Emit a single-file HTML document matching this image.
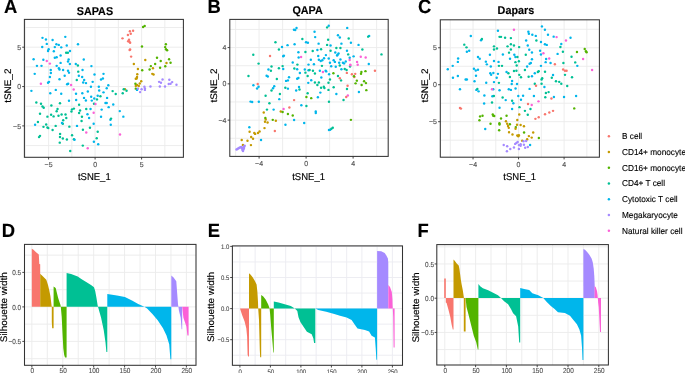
<!DOCTYPE html><html><head><meta charset="utf-8"><style>html,body{margin:0;padding:0;background:#fff;overflow:hidden}svg{display:block;will-change:transform;filter:blur(0.25px)}</style></head><body><svg width="685" height="373" viewBox="0 0 685 373" font-family="Liberation Sans, sans-serif" text-rendering="geometricPrecision"><rect width="685" height="373" fill="#fff"/><path d="M25.35 19.4V157.3M48.6 19.4V157.3M71.85 19.4V157.3M95.1 19.4V157.3M118.35 19.4V157.3M141.6 19.4V157.3M164.85 19.4V157.3M24.4 27.52H183.4M24.4 47.2H183.4M24.4 66.88H183.4M24.4 86.55H183.4M24.4 106.22H183.4M24.4 125.9H183.4M24.4 145.57H183.4" stroke="#EBEBEB" stroke-width="0.9" fill="none"/><circle cx="42.49" cy="37.86" r="1.22" fill="#00B6EB"/><circle cx="45.94" cy="39.59" r="1.22" fill="#00B6EB"/><circle cx="52.6" cy="39.96" r="1.22" fill="#00B6EB"/><circle cx="65.29" cy="36.87" r="1.22" fill="#00B6EB"/><circle cx="46.8" cy="43.9" r="1.22" fill="#00B6EB"/><circle cx="56.42" cy="44.27" r="1.22" fill="#00B6EB"/><circle cx="58.76" cy="44.89" r="1.22" fill="#00B6EB"/><circle cx="66.77" cy="45.5" r="1.22" fill="#00B6EB"/><circle cx="77.99" cy="44.27" r="1.22" fill="#00B6EB"/><circle cx="42.24" cy="46.98" r="1.22" fill="#00B6EB"/><circle cx="54.82" cy="47.1" r="1.22" fill="#00B6EB"/><circle cx="61.23" cy="47.35" r="1.22" fill="#00B6EB"/><circle cx="48.65" cy="49.2" r="1.22" fill="#00B6EB"/><circle cx="48.04" cy="51.05" r="1.22" fill="#00B6EB"/><circle cx="53.83" cy="51.17" r="1.22" fill="#00B6EB"/><circle cx="69.98" cy="50.93" r="1.22" fill="#00B6EB"/><circle cx="60.61" cy="55.49" r="1.22" fill="#00B6EB"/><circle cx="54.82" cy="57.83" r="1.22" fill="#00B6EB"/><circle cx="56.67" cy="57.21" r="1.22" fill="#00B6EB"/><circle cx="33.61" cy="59.31" r="1.22" fill="#00B6EB"/><circle cx="43.35" cy="59.68" r="1.22" fill="#00B6EB"/><circle cx="68.62" cy="59.43" r="1.22" fill="#00B6EB"/><circle cx="68.01" cy="61.53" r="1.22" fill="#00B6EB"/><circle cx="83.78" cy="59.43" r="1.22" fill="#00B6EB"/><circle cx="60.61" cy="62.88" r="1.22" fill="#00B6EB"/><circle cx="69.86" cy="63.99" r="1.22" fill="#00B6EB"/><circle cx="75.77" cy="63.99" r="1.22" fill="#00B6EB"/><circle cx="66.16" cy="52.78" r="1.22" fill="#00C094"/><circle cx="67.88" cy="52.78" r="1.22" fill="#00C094"/><circle cx="46.8" cy="60.91" r="1.22" fill="#FB61D7"/><circle cx="49.89" cy="63.62" r="1.22" fill="#FB61D7"/><circle cx="129.89" cy="31.33" r="1.22" fill="#F8766D"/><circle cx="133.09" cy="30.83" r="1.22" fill="#F8766D"/><circle cx="130.75" cy="33.79" r="1.22" fill="#F8766D"/><circle cx="127.91" cy="35.02" r="1.22" fill="#F8766D"/><circle cx="122.49" cy="38.35" r="1.22" fill="#F8766D"/><circle cx="129.02" cy="39.71" r="1.22" fill="#F8766D"/><circle cx="128.16" cy="41.19" r="1.22" fill="#F8766D"/><circle cx="129.39" cy="41.8" r="1.22" fill="#F8766D"/><circle cx="130.13" cy="42.67" r="1.22" fill="#F8766D"/><circle cx="130.13" cy="49.57" r="1.22" fill="#F8766D"/><circle cx="129.64" cy="50.06" r="1.22" fill="#F8766D"/><circle cx="131.12" cy="56.6" r="1.22" fill="#F8766D"/><circle cx="143.08" cy="27.01" r="1.22" fill="#53B400"/><circle cx="144.68" cy="25.9" r="1.22" fill="#53B400"/><circle cx="141.97" cy="46.49" r="1.22" fill="#53B400"/><circle cx="165.88" cy="44.27" r="1.22" fill="#53B400"/><circle cx="165.14" cy="47.1" r="1.22" fill="#53B400"/><circle cx="166" cy="49.2" r="1.22" fill="#53B400"/><circle cx="167.11" cy="50.19" r="1.22" fill="#53B400"/><circle cx="157" cy="57.83" r="1.22" fill="#53B400"/><circle cx="160.7" cy="60.91" r="1.22" fill="#53B400"/><circle cx="169.08" cy="59.31" r="1.22" fill="#53B400"/><circle cx="170.56" cy="62.76" r="1.22" fill="#53B400"/><circle cx="155.16" cy="63.99" r="1.22" fill="#53B400"/><circle cx="145.29" cy="59.92" r="1.22" fill="#C49A00"/><circle cx="133.83" cy="63.99" r="1.22" fill="#C49A00"/><circle cx="166.5" cy="63.01" r="1.22" fill="#C49A00"/><circle cx="36.94" cy="65.85" r="1.22" fill="#00B6EB"/><circle cx="41.5" cy="65.85" r="1.22" fill="#00B6EB"/><circle cx="56.67" cy="65.85" r="1.22" fill="#00B6EB"/><circle cx="91.43" cy="66.1" r="1.22" fill="#00B6EB"/><circle cx="50.75" cy="69.92" r="1.22" fill="#00B6EB"/><circle cx="58.88" cy="68.31" r="1.22" fill="#00B6EB"/><circle cx="59.5" cy="69.55" r="1.22" fill="#00B6EB"/><circle cx="63.08" cy="69.92" r="1.22" fill="#00B6EB"/><circle cx="68.01" cy="70.78" r="1.22" fill="#00B6EB"/><circle cx="68.99" cy="72.63" r="1.22" fill="#00B6EB"/><circle cx="82.55" cy="69.92" r="1.22" fill="#00B6EB"/><circle cx="34.72" cy="73.86" r="1.22" fill="#00B6EB"/><circle cx="50.87" cy="73" r="1.22" fill="#00B6EB"/><circle cx="94.51" cy="74.48" r="1.22" fill="#00B6EB"/><circle cx="103.51" cy="73.86" r="1.22" fill="#00B6EB"/><circle cx="64.68" cy="75.83" r="1.22" fill="#00B6EB"/><circle cx="78.85" cy="75.71" r="1.22" fill="#00B6EB"/><circle cx="82.18" cy="76.94" r="1.22" fill="#00B6EB"/><circle cx="49.89" cy="76.94" r="1.22" fill="#00B6EB"/><circle cx="59.5" cy="79.29" r="1.22" fill="#00B6EB"/><circle cx="84.15" cy="80.02" r="1.22" fill="#00B6EB"/><circle cx="101.04" cy="79.41" r="1.22" fill="#00B6EB"/><circle cx="102.89" cy="78.55" r="1.22" fill="#00B6EB"/><circle cx="49.02" cy="81.87" r="1.22" fill="#00B6EB"/><circle cx="48.04" cy="82.74" r="1.22" fill="#00B6EB"/><circle cx="83.17" cy="82.49" r="1.22" fill="#00B6EB"/><circle cx="86" cy="83.11" r="1.22" fill="#00B6EB"/><circle cx="92.66" cy="81.87" r="1.22" fill="#00B6EB"/><circle cx="67.14" cy="84.34" r="1.22" fill="#00B6EB"/><circle cx="68.13" cy="83.72" r="1.22" fill="#00B6EB"/><circle cx="90.93" cy="86.8" r="1.22" fill="#00B6EB"/><circle cx="98.82" cy="86.8" r="1.22" fill="#00B6EB"/><circle cx="31.4" cy="90.87" r="1.22" fill="#00B6EB"/><circle cx="55.8" cy="89.89" r="1.22" fill="#00B6EB"/><circle cx="50.26" cy="93.21" r="1.22" fill="#00B6EB"/><circle cx="61.23" cy="93.83" r="1.22" fill="#00B6EB"/><circle cx="76.02" cy="93.83" r="1.22" fill="#00B6EB"/><circle cx="82.31" cy="93.21" r="1.22" fill="#00B6EB"/><circle cx="87.85" cy="91.49" r="1.22" fill="#00B6EB"/><circle cx="99.19" cy="90.5" r="1.22" fill="#00B6EB"/><circle cx="103.51" cy="92.35" r="1.22" fill="#00B6EB"/><circle cx="91.18" cy="96.67" r="1.22" fill="#00B6EB"/><circle cx="84.03" cy="97.9" r="1.22" fill="#00B6EB"/><circle cx="97.71" cy="95.8" r="1.22" fill="#00B6EB"/><circle cx="94.26" cy="98.51" r="1.22" fill="#00B6EB"/><circle cx="68.99" cy="100.73" r="1.22" fill="#00B6EB"/><circle cx="76.14" cy="99.99" r="1.22" fill="#00B6EB"/><circle cx="85.88" cy="100.49" r="1.22" fill="#00B6EB"/><circle cx="91.8" cy="100.61" r="1.22" fill="#00B6EB"/><circle cx="90.56" cy="108.99" r="1.22" fill="#00B6EB"/><circle cx="101.66" cy="109.61" r="1.22" fill="#00B6EB"/><circle cx="77.87" cy="65.48" r="1.22" fill="#00C094"/><circle cx="78.24" cy="71.64" r="1.22" fill="#00C094"/><circle cx="76.76" cy="80.02" r="1.22" fill="#00C094"/><circle cx="100.43" cy="96.3" r="1.22" fill="#00C094"/><circle cx="96.97" cy="99.38" r="1.22" fill="#00C094"/><circle cx="36.33" cy="102.46" r="1.22" fill="#00C094"/><circle cx="41.01" cy="103.82" r="1.22" fill="#00C094"/><circle cx="42.49" cy="106.53" r="1.22" fill="#00C094"/><circle cx="43.72" cy="107.76" r="1.22" fill="#00C094"/><circle cx="51.37" cy="105.54" r="1.22" fill="#00C094"/><circle cx="59.99" cy="103.2" r="1.22" fill="#00C094"/><circle cx="79.1" cy="104.68" r="1.22" fill="#00C094"/><circle cx="94.02" cy="103.82" r="1.22" fill="#00C094"/><circle cx="57.53" cy="108.99" r="1.22" fill="#00C094"/><circle cx="72.07" cy="109.36" r="1.22" fill="#00C094"/><circle cx="73.92" cy="108.62" r="1.22" fill="#00C094"/><circle cx="86.25" cy="108.99" r="1.22" fill="#00C094"/><circle cx="40.89" cy="83.72" r="1.22" fill="#FB61D7"/><circle cx="71.09" cy="84.96" r="1.22" fill="#FB61D7"/><circle cx="73.68" cy="89.52" r="1.22" fill="#FB61D7"/><circle cx="95.49" cy="104.06" r="1.22" fill="#FB61D7"/><circle cx="137.9" cy="68.93" r="1.22" fill="#C49A00"/><circle cx="152.94" cy="68.31" r="1.22" fill="#C49A00"/><circle cx="137.28" cy="74.23" r="1.22" fill="#C49A00"/><circle cx="152.32" cy="73.86" r="1.22" fill="#C49A00"/><circle cx="153.55" cy="74.48" r="1.22" fill="#C49A00"/><circle cx="137.04" cy="76.94" r="1.22" fill="#C49A00"/><circle cx="135.8" cy="78.79" r="1.22" fill="#C49A00"/><circle cx="136.67" cy="78.55" r="1.22" fill="#C49A00"/><circle cx="141.23" cy="81.26" r="1.22" fill="#C49A00"/><circle cx="139.75" cy="83.48" r="1.22" fill="#C49A00"/><circle cx="137.04" cy="84.96" r="1.22" fill="#C49A00"/><circle cx="135.8" cy="85.94" r="1.22" fill="#C49A00"/><circle cx="138.76" cy="85.94" r="1.22" fill="#C49A00"/><circle cx="124.96" cy="89.27" r="1.22" fill="#C49A00"/><circle cx="150.84" cy="66.1" r="1.22" fill="#53B400"/><circle cx="165.26" cy="66.22" r="1.22" fill="#53B400"/><circle cx="142.21" cy="70.16" r="1.22" fill="#53B400"/><circle cx="149.61" cy="69.55" r="1.22" fill="#53B400"/><circle cx="160.09" cy="67.7" r="1.22" fill="#53B400"/><circle cx="135.43" cy="83.72" r="1.22" fill="#53B400"/><circle cx="135.8" cy="88.65" r="1.22" fill="#53B400"/><circle cx="112.63" cy="91.12" r="1.22" fill="#00C094"/><circle cx="115.71" cy="93.95" r="1.22" fill="#00C094"/><circle cx="122.74" cy="93.21" r="1.22" fill="#00C094"/><circle cx="123.72" cy="89.27" r="1.22" fill="#00C094"/><circle cx="126.56" cy="90.75" r="1.22" fill="#00C094"/><circle cx="108.31" cy="85.2" r="1.22" fill="#00B6EB"/><circle cx="106.71" cy="88.28" r="1.22" fill="#00B6EB"/><circle cx="107.08" cy="97.9" r="1.22" fill="#00B6EB"/><circle cx="105.48" cy="103.08" r="1.22" fill="#00B6EB"/><circle cx="106.71" cy="103.08" r="1.22" fill="#00B6EB"/><circle cx="113.24" cy="104.43" r="1.22" fill="#00B6EB"/><circle cx="108.68" cy="107.14" r="1.22" fill="#00B6EB"/><circle cx="137.04" cy="89.89" r="1.22" fill="#00B6EB"/><circle cx="162.55" cy="79.41" r="1.22" fill="#A58AFF"/><circle cx="169.33" cy="79.78" r="1.22" fill="#A58AFF"/><circle cx="159.1" cy="81.87" r="1.22" fill="#A58AFF"/><circle cx="160.95" cy="82.74" r="1.22" fill="#A58AFF"/><circle cx="172.17" cy="82.12" r="1.22" fill="#A58AFF"/><circle cx="168.71" cy="84.09" r="1.22" fill="#A58AFF"/><circle cx="170.56" cy="83.72" r="1.22" fill="#A58AFF"/><circle cx="176.48" cy="84.71" r="1.22" fill="#A58AFF"/><circle cx="144.43" cy="86.8" r="1.22" fill="#A58AFF"/><circle cx="150.47" cy="86.43" r="1.22" fill="#A58AFF"/><circle cx="159.84" cy="86.43" r="1.22" fill="#A58AFF"/><circle cx="165.02" cy="86.56" r="1.22" fill="#A58AFF"/><circle cx="137.9" cy="88.65" r="1.22" fill="#A58AFF"/><circle cx="141.6" cy="89.27" r="1.22" fill="#A58AFF"/><circle cx="144.92" cy="89.89" r="1.22" fill="#A58AFF"/><circle cx="144.92" cy="88.41" r="1.22" fill="#A58AFF"/><circle cx="140.12" cy="92.1" r="1.22" fill="#A58AFF"/><circle cx="56.67" cy="111.22" r="1.22" fill="#00C094"/><circle cx="71.46" cy="111.47" r="1.22" fill="#00C094"/><circle cx="79.1" cy="112.94" r="1.22" fill="#00C094"/><circle cx="80.09" cy="110.48" r="1.22" fill="#00C094"/><circle cx="40.02" cy="113.68" r="1.22" fill="#00C094"/><circle cx="47.42" cy="116.64" r="1.22" fill="#00C094"/><circle cx="51.12" cy="114.79" r="1.22" fill="#00C094"/><circle cx="53.58" cy="116.4" r="1.22" fill="#00C094"/><circle cx="58.51" cy="115.78" r="1.22" fill="#00C094"/><circle cx="61.6" cy="114.55" r="1.22" fill="#00C094"/><circle cx="65.54" cy="114.55" r="1.22" fill="#00C094"/><circle cx="66.28" cy="118" r="1.22" fill="#00C094"/><circle cx="63.2" cy="120.34" r="1.22" fill="#00C094"/><circle cx="62.83" cy="123.79" r="1.22" fill="#00C094"/><circle cx="37.93" cy="122.07" r="1.22" fill="#00C094"/><circle cx="46.19" cy="124.41" r="1.22" fill="#00C094"/><circle cx="43.48" cy="126.87" r="1.22" fill="#00C094"/><circle cx="47.42" cy="127.49" r="1.22" fill="#00C094"/><circle cx="48.28" cy="128.11" r="1.22" fill="#00C094"/><circle cx="55.68" cy="125.89" r="1.22" fill="#00C094"/><circle cx="69.36" cy="126.63" r="1.22" fill="#00C094"/><circle cx="81.94" cy="116.77" r="1.22" fill="#00C094"/><circle cx="81.57" cy="121.08" r="1.22" fill="#00C094"/><circle cx="82.92" cy="129.71" r="1.22" fill="#00C094"/><circle cx="89.95" cy="127.74" r="1.22" fill="#00C094"/><circle cx="97.71" cy="131.8" r="1.22" fill="#00C094"/><circle cx="52.6" cy="129.96" r="1.22" fill="#00C094"/><circle cx="60.12" cy="133.9" r="1.22" fill="#00C094"/><circle cx="59.99" cy="136.98" r="1.22" fill="#00C094"/><circle cx="62.83" cy="138.58" r="1.22" fill="#00C094"/><circle cx="66.9" cy="139.45" r="1.22" fill="#00C094"/><circle cx="72.07" cy="135.26" r="1.22" fill="#00C094"/><circle cx="73.92" cy="139.2" r="1.22" fill="#00C094"/><circle cx="59.75" cy="142.65" r="1.22" fill="#00C094"/><circle cx="40.02" cy="135.87" r="1.22" fill="#00C094"/><circle cx="39.04" cy="137.1" r="1.22" fill="#00C094"/><circle cx="96.73" cy="138.21" r="1.22" fill="#00C094"/><circle cx="82.8" cy="145.61" r="1.22" fill="#00C094"/><circle cx="70.22" cy="150.91" r="1.22" fill="#00C094"/><circle cx="35.09" cy="124.78" r="1.22" fill="#00B6EB"/><circle cx="61.97" cy="122.93" r="1.22" fill="#00B6EB"/><circle cx="77" cy="125.89" r="1.22" fill="#00B6EB"/><circle cx="87.48" cy="114.3" r="1.22" fill="#00B6EB"/><circle cx="89.08" cy="118" r="1.22" fill="#00B6EB"/><circle cx="93.65" cy="123.79" r="1.22" fill="#00B6EB"/><circle cx="101.04" cy="116.77" r="1.22" fill="#00B6EB"/><circle cx="74.54" cy="139.82" r="1.22" fill="#00B6EB"/><circle cx="93.89" cy="141.79" r="1.22" fill="#00B6EB"/><circle cx="98.21" cy="144.25" r="1.22" fill="#00B6EB"/><circle cx="93.65" cy="112.7" r="1.22" fill="#FB61D7"/><circle cx="86.25" cy="132.42" r="1.22" fill="#FB61D7"/><circle cx="87.73" cy="148.2" r="1.22" fill="#FB61D7"/><circle cx="119.78" cy="111.1" r="1.22" fill="#00B6EB"/><circle cx="123.35" cy="116.64" r="1.22" fill="#00B6EB"/><circle cx="110.41" cy="119.85" r="1.22" fill="#00B6EB"/><circle cx="110.78" cy="124.78" r="1.22" fill="#00B6EB"/><circle cx="111.03" cy="118.61" r="1.22" fill="#00C094"/><circle cx="120.02" cy="134.52" r="1.22" fill="#FB61D7"/><rect x="24.4" y="19.4" width="159" height="137.9" fill="none" stroke="#333" stroke-width="1.05"/><text transform="translate(48.6 166.9) scale(1 1.045)" font-size="7.0" text-anchor="middle" font-weight="normal" fill="#4D4D4D" stroke="#4D4D4D" stroke-width="0.1">−5</text><text transform="translate(95.1 166.9) scale(1 1.045)" font-size="7.0" text-anchor="middle" font-weight="normal" fill="#4D4D4D" stroke="#4D4D4D" stroke-width="0.1">0</text><text transform="translate(141.6 166.9) scale(1 1.045)" font-size="7.0" text-anchor="middle" font-weight="normal" fill="#4D4D4D" stroke="#4D4D4D" stroke-width="0.1">5</text><text transform="translate(21.1 49.8) scale(1 1.045)" font-size="7.0" text-anchor="end" font-weight="normal" fill="#4D4D4D" stroke="#4D4D4D" stroke-width="0.1">5</text><text transform="translate(21.1 89.15) scale(1 1.045)" font-size="7.0" text-anchor="end" font-weight="normal" fill="#4D4D4D" stroke="#4D4D4D" stroke-width="0.1">0</text><text transform="translate(21.1 128.5) scale(1 1.045)" font-size="7.0" text-anchor="end" font-weight="normal" fill="#4D4D4D" stroke="#4D4D4D" stroke-width="0.1">−5</text><path d="M48.6 157.3V159.5M95.1 157.3V159.5M141.6 157.3V159.5M24.4 47.2H22.2M24.4 86.55H22.2M24.4 125.9H22.2" stroke="#333" stroke-width="0.9" fill="none"/><text transform="translate(94.3 180) scale(1 1.045)" font-size="9.5" text-anchor="middle" font-weight="normal" fill="#000" stroke="#000" stroke-width="0.15">tSNE_1</text><text transform="translate(10.6 85.7) scale(1 1.045) rotate(-90)" font-size="9.5" text-anchor="middle" font-weight="normal" fill="#000" stroke="#000" stroke-width="0.15">tSNE_2</text><text transform="translate(94.9 15.2) scale(1 1.045)" font-size="10.8" text-anchor="middle" font-weight="bold" fill="#000" stroke="#000" stroke-width="0.15">SAPAS</text><text transform="translate(4 12.9) scale(1 1.045)" font-size="18.4" text-anchor="start" font-weight="bold" fill="#000" stroke="#000" stroke-width="0.15">A</text><path d="M235.6 19.4V156.4M259.1 19.4V156.4M282.6 19.4V156.4M306.1 19.4V156.4M329.6 19.4V156.4M353.1 19.4V156.4M376.6 19.4V156.4M229.8 29.43H388.2M229.8 47.57H388.2M229.8 65.71H388.2M229.8 83.85H388.2M229.8 101.99H388.2M229.8 120.13H388.2M229.8 138.27H388.2" stroke="#EBEBEB" stroke-width="0.9" fill="none"/><circle cx="293.96" cy="29.72" r="1.22" fill="#00B6EB"/><circle cx="295.19" cy="30.09" r="1.22" fill="#00B6EB"/><circle cx="296.55" cy="28" r="1.22" fill="#00B6EB"/><circle cx="306.04" cy="42.17" r="1.22" fill="#00B6EB"/><circle cx="307.89" cy="42.79" r="1.22" fill="#00B6EB"/><circle cx="287.55" cy="45.13" r="1.22" fill="#00B6EB"/><circle cx="294.58" cy="44.27" r="1.22" fill="#00B6EB"/><circle cx="282" cy="46.98" r="1.22" fill="#00B6EB"/><circle cx="298.4" cy="52.28" r="1.22" fill="#00B6EB"/><circle cx="283.85" cy="55.61" r="1.22" fill="#00B6EB"/><circle cx="283.24" cy="56.23" r="1.22" fill="#00B6EB"/><circle cx="298.65" cy="57.46" r="1.22" fill="#00B6EB"/><circle cx="292.73" cy="62.51" r="1.22" fill="#00B6EB"/><circle cx="308.51" cy="64.61" r="1.22" fill="#00B6EB"/><circle cx="275.47" cy="42.17" r="1.22" fill="#00C094"/><circle cx="302.34" cy="38.97" r="1.22" fill="#00C094"/><circle cx="278.92" cy="49.57" r="1.22" fill="#00C094"/><circle cx="253.28" cy="54.75" r="1.22" fill="#00C094"/><circle cx="305.43" cy="52.04" r="1.22" fill="#00C094"/><circle cx="258.58" cy="63.62" r="1.22" fill="#00C094"/><circle cx="297.41" cy="64.61" r="1.22" fill="#00C094"/><circle cx="270.05" cy="55.98" r="1.22" fill="#F8766D"/><circle cx="301.11" cy="56.97" r="1.22" fill="#FB61D7"/><circle cx="328.72" cy="25.78" r="1.22" fill="#00B6EB"/><circle cx="347.21" cy="27.88" r="1.22" fill="#00B6EB"/><circle cx="314.55" cy="31.82" r="1.22" fill="#00B6EB"/><circle cx="315.16" cy="37.12" r="1.22" fill="#00B6EB"/><circle cx="337.97" cy="35.27" r="1.22" fill="#00B6EB"/><circle cx="339.82" cy="37.49" r="1.22" fill="#00B6EB"/><circle cx="369.15" cy="35.89" r="1.22" fill="#00B6EB"/><circle cx="350.91" cy="42.79" r="1.22" fill="#00B6EB"/><circle cx="341.42" cy="43.65" r="1.22" fill="#00B6EB"/><circle cx="318.61" cy="43.65" r="1.22" fill="#00B6EB"/><circle cx="330.57" cy="45.5" r="1.22" fill="#00B6EB"/><circle cx="358.55" cy="44.89" r="1.22" fill="#00B6EB"/><circle cx="317.38" cy="50.06" r="1.22" fill="#00B6EB"/><circle cx="346.97" cy="50.8" r="1.22" fill="#00B6EB"/><circle cx="335.26" cy="52.53" r="1.22" fill="#00B6EB"/><circle cx="338.58" cy="53.51" r="1.22" fill="#00B6EB"/><circle cx="337.6" cy="54.75" r="1.22" fill="#00B6EB"/><circle cx="337.1" cy="55.49" r="1.22" fill="#00B6EB"/><circle cx="318.24" cy="55.98" r="1.22" fill="#00B6EB"/><circle cx="325.89" cy="55.12" r="1.22" fill="#00B6EB"/><circle cx="324.04" cy="58.2" r="1.22" fill="#00B6EB"/><circle cx="328.72" cy="58.45" r="1.22" fill="#00B6EB"/><circle cx="310.85" cy="59.68" r="1.22" fill="#00B6EB"/><circle cx="318.86" cy="59.68" r="1.22" fill="#00B6EB"/><circle cx="320.71" cy="60.91" r="1.22" fill="#00B6EB"/><circle cx="322.31" cy="60.29" r="1.22" fill="#00B6EB"/><circle cx="333.65" cy="60.29" r="1.22" fill="#00B6EB"/><circle cx="334.89" cy="61.9" r="1.22" fill="#00B6EB"/><circle cx="340.43" cy="59.43" r="1.22" fill="#00B6EB"/><circle cx="349.68" cy="57.83" r="1.22" fill="#00B6EB"/><circle cx="353.62" cy="56.35" r="1.22" fill="#00B6EB"/><circle cx="329.96" cy="62.76" r="1.22" fill="#00B6EB"/><circle cx="339.2" cy="62.76" r="1.22" fill="#00B6EB"/><circle cx="342.9" cy="62.76" r="1.22" fill="#00B6EB"/><circle cx="344.13" cy="63.38" r="1.22" fill="#00B6EB"/><circle cx="345.73" cy="61.53" r="1.22" fill="#00B6EB"/><circle cx="313.93" cy="64.24" r="1.22" fill="#00B6EB"/><circle cx="368.78" cy="63.99" r="1.22" fill="#00B6EB"/><circle cx="327.12" cy="27.38" r="1.22" fill="#00C094"/><circle cx="328.11" cy="39.71" r="1.22" fill="#00C094"/><circle cx="327.12" cy="44.89" r="1.22" fill="#00C094"/><circle cx="348.69" cy="38.48" r="1.22" fill="#00C094"/><circle cx="336.37" cy="47.97" r="1.22" fill="#00C094"/><circle cx="340.43" cy="47.97" r="1.22" fill="#00C094"/><circle cx="321.08" cy="49.2" r="1.22" fill="#00C094"/><circle cx="312.7" cy="51.05" r="1.22" fill="#00C094"/><circle cx="330.57" cy="50.8" r="1.22" fill="#00C094"/><circle cx="348.2" cy="54.38" r="1.22" fill="#00C094"/><circle cx="362.37" cy="49.45" r="1.22" fill="#00C094"/><circle cx="381.48" cy="54.38" r="1.22" fill="#00C094"/><circle cx="368.17" cy="36.63" r="1.22" fill="#00C094"/><circle cx="360.77" cy="56.84" r="1.22" fill="#FB61D7"/><circle cx="365.7" cy="57.58" r="1.22" fill="#FB61D7"/><circle cx="349.68" cy="59.92" r="1.22" fill="#FB61D7"/><circle cx="357.07" cy="61.9" r="1.22" fill="#FB61D7"/><circle cx="350.29" cy="64.61" r="1.22" fill="#FB61D7"/><circle cx="271.53" cy="66.47" r="1.22" fill="#00C094"/><circle cx="282.62" cy="66.1" r="1.22" fill="#00C094"/><circle cx="278.92" cy="68.31" r="1.22" fill="#00C094"/><circle cx="270.91" cy="70.78" r="1.22" fill="#00C094"/><circle cx="294.33" cy="68.56" r="1.22" fill="#00C094"/><circle cx="305.43" cy="72.63" r="1.22" fill="#00C094"/><circle cx="307.64" cy="75.96" r="1.22" fill="#00C094"/><circle cx="248.48" cy="75.96" r="1.22" fill="#00C094"/><circle cx="276.83" cy="79.04" r="1.22" fill="#00C094"/><circle cx="285.33" cy="87.79" r="1.22" fill="#00C094"/><circle cx="271.53" cy="90.5" r="1.22" fill="#00C094"/><circle cx="279.91" cy="93.95" r="1.22" fill="#00C094"/><circle cx="265.61" cy="95.68" r="1.22" fill="#00C094"/><circle cx="299.51" cy="89.52" r="1.22" fill="#00C094"/><circle cx="307.64" cy="93.21" r="1.22" fill="#00C094"/><circle cx="269.43" cy="103.2" r="1.22" fill="#00C094"/><circle cx="306.41" cy="105.91" r="1.22" fill="#00C094"/><circle cx="266.97" cy="109.61" r="1.22" fill="#00C094"/><circle cx="268.45" cy="69.55" r="1.22" fill="#00B6EB"/><circle cx="283.24" cy="68.93" r="1.22" fill="#00B6EB"/><circle cx="297.17" cy="69.18" r="1.22" fill="#00B6EB"/><circle cx="304.81" cy="69.55" r="1.22" fill="#00B6EB"/><circle cx="308.51" cy="70.16" r="1.22" fill="#00B6EB"/><circle cx="299.88" cy="73" r="1.22" fill="#00B6EB"/><circle cx="266.6" cy="75.71" r="1.22" fill="#00B6EB"/><circle cx="267.83" cy="76.57" r="1.22" fill="#00B6EB"/><circle cx="289.03" cy="77.19" r="1.22" fill="#00B6EB"/><circle cx="286.07" cy="80.89" r="1.22" fill="#00B6EB"/><circle cx="287.92" cy="80.39" r="1.22" fill="#00B6EB"/><circle cx="297.17" cy="78.79" r="1.22" fill="#00B6EB"/><circle cx="298.4" cy="77.93" r="1.22" fill="#00B6EB"/><circle cx="308.26" cy="82.86" r="1.22" fill="#00B6EB"/><circle cx="253.41" cy="85.2" r="1.22" fill="#00B6EB"/><circle cx="258.58" cy="86.8" r="1.22" fill="#00B6EB"/><circle cx="257.1" cy="88.41" r="1.22" fill="#00B6EB"/><circle cx="274.24" cy="86.19" r="1.22" fill="#00B6EB"/><circle cx="273.01" cy="88.28" r="1.22" fill="#00B6EB"/><circle cx="287.92" cy="88.65" r="1.22" fill="#00B6EB"/><circle cx="299.02" cy="87.05" r="1.22" fill="#00B6EB"/><circle cx="296.18" cy="90.5" r="1.22" fill="#00B6EB"/><circle cx="279.29" cy="99.13" r="1.22" fill="#00B6EB"/><circle cx="250.57" cy="101.6" r="1.22" fill="#00B6EB"/><circle cx="252.17" cy="101.97" r="1.22" fill="#00B6EB"/><circle cx="258.83" cy="101.84" r="1.22" fill="#00B6EB"/><circle cx="301.36" cy="105.29" r="1.22" fill="#00B6EB"/><circle cx="273.62" cy="109.61" r="1.22" fill="#00B6EB"/><circle cx="257.72" cy="83.97" r="1.22" fill="#F8766D"/><circle cx="294.08" cy="100.12" r="1.22" fill="#F8766D"/><circle cx="289.4" cy="107.51" r="1.22" fill="#F8766D"/><circle cx="306.41" cy="97.04" r="1.22" fill="#53B400"/><circle cx="283.61" cy="108.99" r="1.22" fill="#FB61D7"/><circle cx="321.94" cy="65.85" r="1.22" fill="#00C094"/><circle cx="339.82" cy="65.48" r="1.22" fill="#00C094"/><circle cx="309.62" cy="69.92" r="1.22" fill="#00C094"/><circle cx="312.94" cy="70.78" r="1.22" fill="#00C094"/><circle cx="314.92" cy="73.49" r="1.22" fill="#00C094"/><circle cx="344.75" cy="68.93" r="1.22" fill="#00C094"/><circle cx="346.6" cy="69.92" r="1.22" fill="#00C094"/><circle cx="337.97" cy="75.96" r="1.22" fill="#00C094"/><circle cx="329.96" cy="79.41" r="1.22" fill="#00C094"/><circle cx="341.05" cy="80.39" r="1.22" fill="#00C094"/><circle cx="314.92" cy="82.49" r="1.22" fill="#00C094"/><circle cx="317.38" cy="84.96" r="1.22" fill="#00C094"/><circle cx="318.86" cy="82.49" r="1.22" fill="#00C094"/><circle cx="328.48" cy="82.74" r="1.22" fill="#00C094"/><circle cx="321.08" cy="87.79" r="1.22" fill="#00C094"/><circle cx="323.79" cy="86.8" r="1.22" fill="#00C094"/><circle cx="324.41" cy="88.04" r="1.22" fill="#00C094"/><circle cx="328.48" cy="89.89" r="1.22" fill="#00C094"/><circle cx="333.65" cy="87.17" r="1.22" fill="#00C094"/><circle cx="346.97" cy="89.02" r="1.22" fill="#00C094"/><circle cx="328.97" cy="101.84" r="1.22" fill="#00C094"/><circle cx="343.51" cy="99.99" r="1.22" fill="#00C094"/><circle cx="350.05" cy="66.47" r="1.22" fill="#00C094"/><circle cx="331.19" cy="66.22" r="1.22" fill="#00B6EB"/><circle cx="335.75" cy="66.71" r="1.22" fill="#00B6EB"/><circle cx="319.85" cy="70.78" r="1.22" fill="#00B6EB"/><circle cx="325.64" cy="70.78" r="1.22" fill="#00B6EB"/><circle cx="326.26" cy="71.4" r="1.22" fill="#00B6EB"/><circle cx="329.09" cy="74.23" r="1.22" fill="#00B6EB"/><circle cx="341.42" cy="69.3" r="1.22" fill="#00B6EB"/><circle cx="321.33" cy="77.56" r="1.22" fill="#00B6EB"/><circle cx="311.22" cy="80.27" r="1.22" fill="#00B6EB"/><circle cx="320.34" cy="92.6" r="1.22" fill="#00B6EB"/><circle cx="317.88" cy="97.28" r="1.22" fill="#00B6EB"/><circle cx="336.37" cy="93.95" r="1.22" fill="#00B6EB"/><circle cx="358.92" cy="91.98" r="1.22" fill="#00B6EB"/><circle cx="322.93" cy="72.01" r="1.22" fill="#FB61D7"/><circle cx="347.83" cy="95.43" r="1.22" fill="#FB61D7"/><circle cx="350.29" cy="65.23" r="1.22" fill="#FB61D7"/><circle cx="346.84" cy="72.88" r="1.22" fill="#F8766D"/><circle cx="351.9" cy="74.23" r="1.22" fill="#F8766D"/><circle cx="355.22" cy="73.86" r="1.22" fill="#F8766D"/><circle cx="354.36" cy="76.94" r="1.22" fill="#F8766D"/><circle cx="339.82" cy="78.18" r="1.22" fill="#F8766D"/><circle cx="347.58" cy="85.82" r="1.22" fill="#F8766D"/><circle cx="346.23" cy="97.04" r="1.22" fill="#F8766D"/><circle cx="374.95" cy="70.78" r="1.22" fill="#F8766D"/><circle cx="333.41" cy="73.24" r="1.22" fill="#53B400"/><circle cx="361.39" cy="72.01" r="1.22" fill="#53B400"/><circle cx="365.46" cy="71.15" r="1.22" fill="#53B400"/><circle cx="361.02" cy="73.86" r="1.22" fill="#53B400"/><circle cx="353.99" cy="76.33" r="1.22" fill="#53B400"/><circle cx="356.83" cy="80.64" r="1.22" fill="#53B400"/><circle cx="355.59" cy="83.35" r="1.22" fill="#53B400"/><circle cx="364.1" cy="81.26" r="1.22" fill="#53B400"/><circle cx="365.95" cy="83.11" r="1.22" fill="#53B400"/><circle cx="361.63" cy="84.96" r="1.22" fill="#53B400"/><circle cx="366.32" cy="90.13" r="1.22" fill="#53B400"/><circle cx="311.22" cy="98.14" r="1.22" fill="#53B400"/><circle cx="263.76" cy="112.45" r="1.22" fill="#C49A00"/><circle cx="280.77" cy="111.47" r="1.22" fill="#C49A00"/><circle cx="265.73" cy="119.48" r="1.22" fill="#C49A00"/><circle cx="264.99" cy="121.7" r="1.22" fill="#C49A00"/><circle cx="267.58" cy="122.56" r="1.22" fill="#C49A00"/><circle cx="275.84" cy="120.71" r="1.22" fill="#C49A00"/><circle cx="264.5" cy="128.11" r="1.22" fill="#C49A00"/><circle cx="249.59" cy="131.8" r="1.22" fill="#C49A00"/><circle cx="254.27" cy="133.04" r="1.22" fill="#C49A00"/><circle cx="255.13" cy="133.9" r="1.22" fill="#C49A00"/><circle cx="257.97" cy="133.04" r="1.22" fill="#C49A00"/><circle cx="259.57" cy="131.43" r="1.22" fill="#C49A00"/><circle cx="251.19" cy="136.98" r="1.22" fill="#C49A00"/><circle cx="253.04" cy="138.83" r="1.22" fill="#C49A00"/><circle cx="241.7" cy="140.06" r="1.22" fill="#C49A00"/><circle cx="247.49" cy="140.8" r="1.22" fill="#C49A00"/><circle cx="242.93" cy="144.99" r="1.22" fill="#C49A00"/><circle cx="250.94" cy="145.12" r="1.22" fill="#C49A00"/><circle cx="282.62" cy="112.08" r="1.22" fill="#53B400"/><circle cx="287.92" cy="113.93" r="1.22" fill="#53B400"/><circle cx="292.73" cy="115.41" r="1.22" fill="#53B400"/><circle cx="265.36" cy="117.88" r="1.22" fill="#53B400"/><circle cx="272.76" cy="119.85" r="1.22" fill="#53B400"/><circle cx="249.34" cy="127.24" r="1.22" fill="#00B6EB"/><circle cx="294.08" cy="120.09" r="1.22" fill="#00B6EB"/><circle cx="285.46" cy="124.78" r="1.22" fill="#00B6EB"/><circle cx="304.19" cy="122.93" r="1.22" fill="#00B6EB"/><circle cx="261.05" cy="140.06" r="1.22" fill="#00B6EB"/><circle cx="274.86" cy="130.94" r="1.22" fill="#F8766D"/><circle cx="315.78" cy="111.47" r="1.22" fill="#00B6EB"/><circle cx="315.78" cy="112.94" r="1.22" fill="#00B6EB"/><circle cx="328.97" cy="129.96" r="1.22" fill="#00B6EB"/><circle cx="330.2" cy="129.71" r="1.22" fill="#00B6EB"/><circle cx="331.43" cy="128.72" r="1.22" fill="#00C094"/><circle cx="332.79" cy="127.74" r="1.22" fill="#00C094"/><circle cx="350.91" cy="119.85" r="1.22" fill="#53B400"/><circle cx="357.7" cy="64.75" r="1.22" fill="#FB61D7"/><circle cx="236.5" cy="149.5" r="1.22" fill="#A58AFF"/><circle cx="237.5" cy="149" r="1.22" fill="#A58AFF"/><circle cx="238.5" cy="148.3" r="1.22" fill="#A58AFF"/><circle cx="239.5" cy="147.7" r="1.22" fill="#A58AFF"/><circle cx="240.5" cy="147.2" r="1.22" fill="#A58AFF"/><circle cx="241.3" cy="147" r="1.22" fill="#A58AFF"/><circle cx="242" cy="148.5" r="1.22" fill="#A58AFF"/><circle cx="242.5" cy="150" r="1.22" fill="#A58AFF"/><circle cx="243" cy="151" r="1.22" fill="#A58AFF"/><circle cx="243.5" cy="149.5" r="1.22" fill="#A58AFF"/><circle cx="244" cy="148" r="1.22" fill="#A58AFF"/><circle cx="244.3" cy="146.5" r="1.22" fill="#A58AFF"/><circle cx="244.6" cy="145.6" r="1.22" fill="#A58AFF"/><circle cx="243.2" cy="147.5" r="1.22" fill="#A58AFF"/><rect x="229.8" y="19.4" width="158.4" height="137" fill="none" stroke="#333" stroke-width="1.05"/><text transform="translate(259.1 166) scale(1 1.045)" font-size="7.0" text-anchor="middle" font-weight="normal" fill="#4D4D4D" stroke="#4D4D4D" stroke-width="0.1">−4</text><text transform="translate(306.1 166) scale(1 1.045)" font-size="7.0" text-anchor="middle" font-weight="normal" fill="#4D4D4D" stroke="#4D4D4D" stroke-width="0.1">0</text><text transform="translate(353.1 166) scale(1 1.045)" font-size="7.0" text-anchor="middle" font-weight="normal" fill="#4D4D4D" stroke="#4D4D4D" stroke-width="0.1">4</text><text transform="translate(226.5 50.17) scale(1 1.045)" font-size="7.0" text-anchor="end" font-weight="normal" fill="#4D4D4D" stroke="#4D4D4D" stroke-width="0.1">4</text><text transform="translate(226.5 86.45) scale(1 1.045)" font-size="7.0" text-anchor="end" font-weight="normal" fill="#4D4D4D" stroke="#4D4D4D" stroke-width="0.1">0</text><text transform="translate(226.5 122.73) scale(1 1.045)" font-size="7.0" text-anchor="end" font-weight="normal" fill="#4D4D4D" stroke="#4D4D4D" stroke-width="0.1">−4</text><path d="M259.1 156.4V158.6M306.1 156.4V158.6M353.1 156.4V158.6M229.8 47.57H227.6M229.8 83.85H227.6M229.8 120.13H227.6" stroke="#333" stroke-width="0.9" fill="none"/><text transform="translate(308.6 180) scale(1 1.045)" font-size="9.5" text-anchor="middle" font-weight="normal" fill="#000" stroke="#000" stroke-width="0.15">tSNE_1</text><text transform="translate(217.1 85.5) scale(1 1.045) rotate(-90)" font-size="9.5" text-anchor="middle" font-weight="normal" fill="#000" stroke="#000" stroke-width="0.15">tSNE_2</text><text transform="translate(307.6 14.4) scale(1 1.045)" font-size="10.8" text-anchor="middle" font-weight="bold" fill="#000" stroke="#000" stroke-width="0.15">QAPA</text><text transform="translate(207.6 12.9) scale(1 1.045)" font-size="18.4" text-anchor="start" font-weight="bold" fill="#000" stroke="#000" stroke-width="0.15">B</text><path d="M450.28 19.8V157.2M473.04 19.8V157.2M495.8 19.8V157.2M518.56 19.8V157.2M541.32 19.8V157.2M564.08 19.8V157.2M586.84 19.8V157.2M440.3 29.27H599.4M440.3 47.76H599.4M440.3 66.24H599.4M440.3 84.73H599.4M440.3 103.22H599.4M440.3 121.7H599.4M440.3 140.19H599.4" stroke="#EBEBEB" stroke-width="0.9" fill="none"/><circle cx="497.94" cy="30.71" r="1.22" fill="#00B6EB"/><circle cx="470.82" cy="36.01" r="1.22" fill="#00B6EB"/><circle cx="481.05" cy="40.2" r="1.22" fill="#00B6EB"/><circle cx="466.87" cy="51.67" r="1.22" fill="#00B6EB"/><circle cx="469.21" cy="50.8" r="1.22" fill="#00B6EB"/><circle cx="458.12" cy="58.45" r="1.22" fill="#00B6EB"/><circle cx="457.87" cy="61.9" r="1.22" fill="#00B6EB"/><circle cx="477.97" cy="56.97" r="1.22" fill="#00B6EB"/><circle cx="479.69" cy="58.69" r="1.22" fill="#00B6EB"/><circle cx="489.92" cy="54.75" r="1.22" fill="#00B6EB"/><circle cx="485.86" cy="61.65" r="1.22" fill="#00B6EB"/><circle cx="493.99" cy="60.91" r="1.22" fill="#00B6EB"/><circle cx="498.55" cy="61.9" r="1.22" fill="#00B6EB"/><circle cx="502.87" cy="54.5" r="1.22" fill="#00B6EB"/><circle cx="510.02" cy="58.69" r="1.22" fill="#00B6EB"/><circle cx="514.33" cy="54.75" r="1.22" fill="#00B6EB"/><circle cx="515.44" cy="56.97" r="1.22" fill="#00B6EB"/><circle cx="486.84" cy="64.36" r="1.22" fill="#00B6EB"/><circle cx="481.91" cy="38.97" r="1.22" fill="#00C094"/><circle cx="499.54" cy="36.87" r="1.22" fill="#00C094"/><circle cx="501.02" cy="36.87" r="1.22" fill="#00C094"/><circle cx="505.08" cy="37.74" r="1.22" fill="#00C094"/><circle cx="510.88" cy="38.11" r="1.22" fill="#00C094"/><circle cx="464.28" cy="44.64" r="1.22" fill="#00C094"/><circle cx="466.5" cy="47.35" r="1.22" fill="#00C094"/><circle cx="493.99" cy="46.37" r="1.22" fill="#00C094"/><circle cx="496.95" cy="48.58" r="1.22" fill="#00C094"/><circle cx="493.99" cy="49.57" r="1.22" fill="#00C094"/><circle cx="507.55" cy="46.37" r="1.22" fill="#00C094"/><circle cx="510.88" cy="44.27" r="1.22" fill="#00C094"/><circle cx="513.96" cy="45.5" r="1.22" fill="#00C094"/><circle cx="510.88" cy="49.57" r="1.22" fill="#00C094"/><circle cx="509.03" cy="52.65" r="1.22" fill="#00C094"/><circle cx="519.14" cy="47.1" r="1.22" fill="#00C094"/><circle cx="517.41" cy="56.97" r="1.22" fill="#00C094"/><circle cx="515.44" cy="62.14" r="1.22" fill="#00C094"/><circle cx="518.89" cy="61.28" r="1.22" fill="#00C094"/><circle cx="513.96" cy="29.72" r="1.22" fill="#FB61D7"/><circle cx="541.94" cy="26.4" r="1.22" fill="#00B6EB"/><circle cx="544.9" cy="29.72" r="1.22" fill="#00B6EB"/><circle cx="528.38" cy="31.7" r="1.22" fill="#00B6EB"/><circle cx="528.88" cy="33.79" r="1.22" fill="#00B6EB"/><circle cx="532.33" cy="34.78" r="1.22" fill="#00B6EB"/><circle cx="535.78" cy="35.89" r="1.22" fill="#00B6EB"/><circle cx="547.98" cy="34.78" r="1.22" fill="#00B6EB"/><circle cx="553.65" cy="36.63" r="1.22" fill="#00B6EB"/><circle cx="570.54" cy="37.74" r="1.22" fill="#00B6EB"/><circle cx="526.16" cy="40.57" r="1.22" fill="#00B6EB"/><circle cx="540.96" cy="42.05" r="1.22" fill="#00B6EB"/><circle cx="544.9" cy="44.27" r="1.22" fill="#00B6EB"/><circle cx="546.75" cy="44.89" r="1.22" fill="#00B6EB"/><circle cx="561.29" cy="44.02" r="1.22" fill="#00B6EB"/><circle cx="527.77" cy="45.5" r="1.22" fill="#00B6EB"/><circle cx="529.24" cy="49.82" r="1.22" fill="#00B6EB"/><circle cx="531.96" cy="52.53" r="1.22" fill="#00B6EB"/><circle cx="540.09" cy="50.8" r="1.22" fill="#00B6EB"/><circle cx="540.96" cy="54.5" r="1.22" fill="#00B6EB"/><circle cx="557.6" cy="53.88" r="1.22" fill="#00B6EB"/><circle cx="531.96" cy="59.31" r="1.22" fill="#00B6EB"/><circle cx="546.13" cy="59.06" r="1.22" fill="#00B6EB"/><circle cx="545.64" cy="62.14" r="1.22" fill="#00B6EB"/><circle cx="550.57" cy="63.01" r="1.22" fill="#00B6EB"/><circle cx="529.61" cy="63.75" r="1.22" fill="#00B6EB"/><circle cx="530.85" cy="63.01" r="1.22" fill="#00B6EB"/><circle cx="536.39" cy="40.57" r="1.22" fill="#00C094"/><circle cx="560.43" cy="46.98" r="1.22" fill="#00C094"/><circle cx="562.9" cy="51.67" r="1.22" fill="#00C094"/><circle cx="525.79" cy="54.75" r="1.22" fill="#00C094"/><circle cx="571.53" cy="56.84" r="1.22" fill="#00C094"/><circle cx="563.39" cy="63.01" r="1.22" fill="#00C094"/><circle cx="575.22" cy="62.39" r="1.22" fill="#00C094"/><circle cx="556.61" cy="37.12" r="1.22" fill="#FB61D7"/><circle cx="565.98" cy="40.57" r="1.22" fill="#FB61D7"/><circle cx="543.42" cy="53.27" r="1.22" fill="#FB61D7"/><circle cx="549.21" cy="58.45" r="1.22" fill="#FB61D7"/><circle cx="583.11" cy="59.06" r="1.22" fill="#FB61D7"/><circle cx="584.71" cy="48.95" r="1.22" fill="#53B400"/><circle cx="585.95" cy="51.3" r="1.22" fill="#53B400"/><circle cx="586.56" cy="52.28" r="1.22" fill="#53B400"/><circle cx="576.95" cy="52.04" r="1.22" fill="#53B400"/><circle cx="554.88" cy="64.24" r="1.22" fill="#F8766D"/><circle cx="452.7" cy="65.85" r="1.22" fill="#00B6EB"/><circle cx="490.79" cy="66.47" r="1.22" fill="#00B6EB"/><circle cx="447.77" cy="69.3" r="1.22" fill="#00B6EB"/><circle cx="473.9" cy="68.68" r="1.22" fill="#00B6EB"/><circle cx="475.75" cy="70.41" r="1.22" fill="#00B6EB"/><circle cx="477.97" cy="69.79" r="1.22" fill="#00B6EB"/><circle cx="457.87" cy="75.96" r="1.22" fill="#00B6EB"/><circle cx="452.94" cy="77.81" r="1.22" fill="#00B6EB"/><circle cx="465.64" cy="79.41" r="1.22" fill="#00B6EB"/><circle cx="466.87" cy="79.41" r="1.22" fill="#00B6EB"/><circle cx="475.99" cy="75.71" r="1.22" fill="#00B6EB"/><circle cx="490.29" cy="73.24" r="1.22" fill="#00B6EB"/><circle cx="491.16" cy="74.85" r="1.22" fill="#00B6EB"/><circle cx="493.37" cy="73" r="1.22" fill="#00B6EB"/><circle cx="497.94" cy="73.86" r="1.22" fill="#00B6EB"/><circle cx="496.7" cy="77.81" r="1.22" fill="#00B6EB"/><circle cx="506.56" cy="72.01" r="1.22" fill="#00B6EB"/><circle cx="512.11" cy="81.01" r="1.22" fill="#00B6EB"/><circle cx="511.74" cy="83.97" r="1.22" fill="#00B6EB"/><circle cx="517.04" cy="83.97" r="1.22" fill="#00B6EB"/><circle cx="474.51" cy="81.26" r="1.22" fill="#00B6EB"/><circle cx="486.22" cy="82.74" r="1.22" fill="#00B6EB"/><circle cx="493.99" cy="82.12" r="1.22" fill="#00B6EB"/><circle cx="459.97" cy="89.27" r="1.22" fill="#00B6EB"/><circle cx="476.36" cy="89.89" r="1.22" fill="#00B6EB"/><circle cx="478.58" cy="91.37" r="1.22" fill="#00B6EB"/><circle cx="493.25" cy="89.27" r="1.22" fill="#00B6EB"/><circle cx="499.54" cy="90.26" r="1.22" fill="#00B6EB"/><circle cx="508.78" cy="89.27" r="1.22" fill="#00B6EB"/><circle cx="510.88" cy="89.89" r="1.22" fill="#00B6EB"/><circle cx="515.56" cy="88.41" r="1.22" fill="#00B6EB"/><circle cx="484.38" cy="95.43" r="1.22" fill="#00B6EB"/><circle cx="492.39" cy="96.3" r="1.22" fill="#00B6EB"/><circle cx="518.27" cy="96.05" r="1.22" fill="#00B6EB"/><circle cx="505.7" cy="100.12" r="1.22" fill="#00B6EB"/><circle cx="513.34" cy="103.2" r="1.22" fill="#00B6EB"/><circle cx="484.13" cy="103.45" r="1.22" fill="#00B6EB"/><circle cx="499.54" cy="107.76" r="1.22" fill="#00B6EB"/><circle cx="512.11" cy="108.99" r="1.22" fill="#00B6EB"/><circle cx="498.92" cy="65.85" r="1.22" fill="#00C094"/><circle cx="502" cy="65.85" r="1.22" fill="#00C094"/><circle cx="516.67" cy="65.48" r="1.22" fill="#00C094"/><circle cx="508.41" cy="73.24" r="1.22" fill="#00C094"/><circle cx="509.89" cy="76.94" r="1.22" fill="#00C094"/><circle cx="513.96" cy="71.03" r="1.22" fill="#00C094"/><circle cx="516.43" cy="70.78" r="1.22" fill="#00C094"/><circle cx="519.26" cy="74.85" r="1.22" fill="#00C094"/><circle cx="498.92" cy="82.86" r="1.22" fill="#00C094"/><circle cx="477.35" cy="89.02" r="1.22" fill="#00C094"/><circle cx="493.87" cy="96.05" r="1.22" fill="#00C094"/><circle cx="502.62" cy="97.53" r="1.22" fill="#00C094"/><circle cx="512.11" cy="100.73" r="1.22" fill="#00C094"/><circle cx="492.02" cy="102.46" r="1.22" fill="#00C094"/><circle cx="519.51" cy="107.14" r="1.22" fill="#00C094"/><circle cx="492.02" cy="89.27" r="1.22" fill="#FB61D7"/><circle cx="459.97" cy="108.01" r="1.22" fill="#F8766D"/><circle cx="460.96" cy="108.62" r="1.22" fill="#F8766D"/><circle cx="527.15" cy="66.47" r="1.22" fill="#00B6EB"/><circle cx="540.96" cy="65.85" r="1.22" fill="#00B6EB"/><circle cx="577.32" cy="65.85" r="1.22" fill="#00B6EB"/><circle cx="534.79" cy="73.24" r="1.22" fill="#00B6EB"/><circle cx="531.96" cy="76.33" r="1.22" fill="#00B6EB"/><circle cx="553.04" cy="75.09" r="1.22" fill="#00B6EB"/><circle cx="544.41" cy="87.05" r="1.22" fill="#00B6EB"/><circle cx="529.61" cy="88.9" r="1.22" fill="#00B6EB"/><circle cx="523.08" cy="95.8" r="1.22" fill="#00B6EB"/><circle cx="533.93" cy="96.05" r="1.22" fill="#00B6EB"/><circle cx="553.9" cy="97.04" r="1.22" fill="#00B6EB"/><circle cx="564.01" cy="96.91" r="1.22" fill="#00B6EB"/><circle cx="576.09" cy="96.05" r="1.22" fill="#00B6EB"/><circle cx="520.99" cy="99.75" r="1.22" fill="#00B6EB"/><circle cx="524.93" cy="69.92" r="1.22" fill="#00C094"/><circle cx="537.87" cy="72.01" r="1.22" fill="#00C094"/><circle cx="538.74" cy="71.15" r="1.22" fill="#00C094"/><circle cx="545.02" cy="71.77" r="1.22" fill="#00C094"/><circle cx="520.99" cy="77.31" r="1.22" fill="#00C094"/><circle cx="528.63" cy="76.7" r="1.22" fill="#00C094"/><circle cx="542.19" cy="78.18" r="1.22" fill="#00C094"/><circle cx="541.57" cy="79.41" r="1.22" fill="#00C094"/><circle cx="551.8" cy="77.81" r="1.22" fill="#00C094"/><circle cx="564.99" cy="74.85" r="1.22" fill="#00C094"/><circle cx="572.02" cy="77.19" r="1.22" fill="#00C094"/><circle cx="555.99" cy="81.26" r="1.22" fill="#00C094"/><circle cx="559.2" cy="81.87" r="1.22" fill="#00C094"/><circle cx="561.29" cy="83.72" r="1.22" fill="#00C094"/><circle cx="534.79" cy="83.72" r="1.22" fill="#00C094"/><circle cx="541.57" cy="83.72" r="1.22" fill="#00C094"/><circle cx="567.21" cy="85.94" r="1.22" fill="#00C094"/><circle cx="545.89" cy="92.97" r="1.22" fill="#00C094"/><circle cx="548.6" cy="92.1" r="1.22" fill="#00C094"/><circle cx="545.27" cy="97.28" r="1.22" fill="#00C094"/><circle cx="530.48" cy="108.99" r="1.22" fill="#00C094"/><circle cx="563.14" cy="69.55" r="1.22" fill="#F8766D"/><circle cx="564.99" cy="70.78" r="1.22" fill="#F8766D"/><circle cx="566.59" cy="70.78" r="1.22" fill="#F8766D"/><circle cx="536.02" cy="85.82" r="1.22" fill="#F8766D"/><circle cx="551.43" cy="98.51" r="1.22" fill="#F8766D"/><circle cx="528.01" cy="104.06" r="1.22" fill="#F8766D"/><circle cx="592.11" cy="69.92" r="1.22" fill="#FB61D7"/><circle cx="538.49" cy="101.35" r="1.22" fill="#FB61D7"/><circle cx="531.71" cy="104.92" r="1.22" fill="#FB61D7"/><circle cx="574.24" cy="108.38" r="1.22" fill="#53B400"/><circle cx="480.06" cy="116.4" r="1.22" fill="#53B400"/><circle cx="482.53" cy="115.78" r="1.22" fill="#53B400"/><circle cx="479.45" cy="120.34" r="1.22" fill="#53B400"/><circle cx="492.76" cy="114.55" r="1.22" fill="#53B400"/><circle cx="493.25" cy="115.78" r="1.22" fill="#53B400"/><circle cx="494.24" cy="116.03" r="1.22" fill="#53B400"/><circle cx="501.02" cy="118.49" r="1.22" fill="#53B400"/><circle cx="506.56" cy="115.78" r="1.22" fill="#53B400"/><circle cx="490.54" cy="123.79" r="1.22" fill="#53B400"/><circle cx="499.41" cy="123.18" r="1.22" fill="#53B400"/><circle cx="499.54" cy="124.41" r="1.22" fill="#53B400"/><circle cx="509.89" cy="124.16" r="1.22" fill="#53B400"/><circle cx="499.17" cy="130.33" r="1.22" fill="#53B400"/><circle cx="515.81" cy="127.12" r="1.22" fill="#53B400"/><circle cx="485.24" cy="129.09" r="1.22" fill="#00B6EB"/><circle cx="505.95" cy="121.33" r="1.22" fill="#C49A00"/><circle cx="507.18" cy="123.79" r="1.22" fill="#C49A00"/><circle cx="508.04" cy="126.01" r="1.22" fill="#C49A00"/><circle cx="508.78" cy="127.86" r="1.22" fill="#C49A00"/><circle cx="515.56" cy="128.72" r="1.22" fill="#C49A00"/><circle cx="517.29" cy="120.09" r="1.22" fill="#C49A00"/><circle cx="517.04" cy="124.78" r="1.22" fill="#C49A00"/><circle cx="519.26" cy="114.55" r="1.22" fill="#C49A00"/><circle cx="509.03" cy="132.17" r="1.22" fill="#C49A00"/><circle cx="512.48" cy="134.52" r="1.22" fill="#C49A00"/><circle cx="517.29" cy="135.5" r="1.22" fill="#C49A00"/><circle cx="518.27" cy="136.37" r="1.22" fill="#C49A00"/><circle cx="518.89" cy="135.26" r="1.22" fill="#C49A00"/><circle cx="503.73" cy="144.99" r="1.22" fill="#A58AFF"/><circle cx="507.18" cy="146.23" r="1.22" fill="#A58AFF"/><circle cx="510.26" cy="149.06" r="1.22" fill="#A58AFF"/><circle cx="506.93" cy="151.28" r="1.22" fill="#A58AFF"/><circle cx="513.96" cy="147.46" r="1.22" fill="#A58AFF"/><circle cx="515.19" cy="143.88" r="1.22" fill="#A58AFF"/><circle cx="516.43" cy="142.9" r="1.22" fill="#A58AFF"/><circle cx="517.66" cy="142.04" r="1.22" fill="#A58AFF"/><circle cx="518.89" cy="145.12" r="1.22" fill="#A58AFF"/><circle cx="518.89" cy="149.06" r="1.22" fill="#A58AFF"/><circle cx="524.93" cy="110.85" r="1.22" fill="#00C094"/><circle cx="527.77" cy="114.79" r="1.22" fill="#00C094"/><circle cx="535.41" cy="118.86" r="1.22" fill="#F8766D"/><circle cx="538.74" cy="117.26" r="1.22" fill="#F8766D"/><circle cx="545.02" cy="114.3" r="1.22" fill="#F8766D"/><circle cx="549.34" cy="112.45" r="1.22" fill="#F8766D"/><circle cx="553.04" cy="110.85" r="1.22" fill="#F8766D"/><circle cx="520.62" cy="125.02" r="1.22" fill="#C49A00"/><circle cx="523.94" cy="126.26" r="1.22" fill="#C49A00"/><circle cx="533.19" cy="132.42" r="1.22" fill="#C49A00"/><circle cx="528.88" cy="136.12" r="1.22" fill="#C49A00"/><circle cx="531.71" cy="137.6" r="1.22" fill="#C49A00"/><circle cx="527.15" cy="139.2" r="1.22" fill="#C49A00"/><circle cx="522.22" cy="140.8" r="1.22" fill="#C49A00"/><circle cx="524.07" cy="132.42" r="1.22" fill="#53B400"/><circle cx="538.86" cy="137.97" r="1.22" fill="#53B400"/><circle cx="523.45" cy="141.3" r="1.22" fill="#A58AFF"/><circle cx="526.16" cy="141.05" r="1.22" fill="#A58AFF"/><circle cx="520.62" cy="144.13" r="1.22" fill="#A58AFF"/><circle cx="520.62" cy="145.73" r="1.22" fill="#A58AFF"/><circle cx="523.94" cy="144.75" r="1.22" fill="#A58AFF"/><circle cx="525.18" cy="147.83" r="1.22" fill="#A58AFF"/><circle cx="527.77" cy="146.97" r="1.22" fill="#A58AFF"/><circle cx="530.11" cy="144.99" r="1.22" fill="#00B6EB"/><rect x="440.3" y="19.8" width="159.1" height="137.4" fill="none" stroke="#333" stroke-width="1.05"/><text transform="translate(473.04 166.8) scale(1 1.045)" font-size="7.0" text-anchor="middle" font-weight="normal" fill="#4D4D4D" stroke="#4D4D4D" stroke-width="0.1">−4</text><text transform="translate(518.56 166.8) scale(1 1.045)" font-size="7.0" text-anchor="middle" font-weight="normal" fill="#4D4D4D" stroke="#4D4D4D" stroke-width="0.1">0</text><text transform="translate(564.08 166.8) scale(1 1.045)" font-size="7.0" text-anchor="middle" font-weight="normal" fill="#4D4D4D" stroke="#4D4D4D" stroke-width="0.1">4</text><text transform="translate(437 50.36) scale(1 1.045)" font-size="7.0" text-anchor="end" font-weight="normal" fill="#4D4D4D" stroke="#4D4D4D" stroke-width="0.1">5</text><text transform="translate(437 87.33) scale(1 1.045)" font-size="7.0" text-anchor="end" font-weight="normal" fill="#4D4D4D" stroke="#4D4D4D" stroke-width="0.1">0</text><text transform="translate(437 124.3) scale(1 1.045)" font-size="7.0" text-anchor="end" font-weight="normal" fill="#4D4D4D" stroke="#4D4D4D" stroke-width="0.1">−5</text><path d="M473.04 157.2V159.4M518.56 157.2V159.4M564.08 157.2V159.4M440.3 47.76H438.1M440.3 84.73H438.1M440.3 121.7H438.1" stroke="#333" stroke-width="0.9" fill="none"/><text transform="translate(519.7 180) scale(1 1.045)" font-size="9.5" text-anchor="middle" font-weight="normal" fill="#000" stroke="#000" stroke-width="0.15">tSNE_1</text><text transform="translate(427.6 85.5) scale(1 1.045) rotate(-90)" font-size="9.5" text-anchor="middle" font-weight="normal" fill="#000" stroke="#000" stroke-width="0.15">tSNE_2</text><text transform="translate(515.9 14.4) scale(1 1.045)" font-size="10.8" text-anchor="middle" font-weight="bold" fill="#000" stroke="#000" stroke-width="0.15">Dapars</text><text transform="translate(418 12.9) scale(1 1.045)" font-size="18.4" text-anchor="start" font-weight="bold" fill="#000" stroke="#000" stroke-width="0.15">C</text><path d="M31.85 244.4V365.3M47.3 244.4V365.3M62.76 244.4V365.3M78.22 244.4V365.3M93.67 244.4V365.3M109.12 244.4V365.3M124.58 244.4V365.3M140.03 244.4V365.3M155.49 244.4V365.3M170.94 244.4V365.3M186.4 244.4V365.3M24.5 255.15H196M24.5 272.4H196M24.5 289.65H196M24.5 306.9H196M24.5 324.15H196M24.5 341.4H196M24.5 358.65H196" stroke="#EBEBEB" stroke-width="0.9" fill="none"/><path d="M31.8 306.8L31.8 248.8L33.5 249.8L35.8 252L38.8 254.6L39.3 264L40.2 264.3L40.2 306.8Z" fill="#F8766D"/><path d="M40.2 306.8L40.2 273.7L42.8 276.3L46.3 279.8L48 285L49.2 290L50.4 296.1L51.6 305.8L51.8 306.8L51.8 322L52.2 328.3L53.6 328.3L53.6 306.8Z" fill="#C49A00"/><path d="M53.6 306.8L53.6 286.4L55.7 288L58.1 297.7L59.3 301.5L60.5 305L60.8 306.8L61.7 316.7L62.5 333.3L63.3 348.3L64.2 355L65 357.5L66.6 357.5L66.6 306.8Z" fill="#53B400"/><path d="M66.6 306.8L66.6 272.9L71.1 274.1L77.7 276.5L81.3 278.9L86.2 281.9L91 284.9L94 287.3L95.2 291L96.4 297.6L97.6 304.9L98 306.8L101.1 317.7L103.7 330L105.5 342.4L106.4 352.1L107.3 352.1L107.3 306.8Z" fill="#00C094"/><path d="M107.3 306.8L107.3 294L117 295.6L124.9 297L132 300.6L138.2 304.1L144.4 306.8L147.1 308.5L152.4 314L157.7 320.2L163 328.3L166.5 335.4L169.2 344.2L170.4 359.3L171.3 359.3L171.3 306.8Z" fill="#00B6EB"/><path d="M171.3 306.8L171.3 275.5L173.6 277.6L176.3 281.2L177.2 293.6L178 304.2L178.4 306.8L178.9 310.6L180.7 317.7L181.6 329.2L182.2 329.2L182.2 306.8Z" fill="#A58AFF"/><path d="M182.2 306.8L183.4 317.7L186.4 326.5L187.4 335.4L188.6 335.4L188.6 306.8Z" fill="#FB61D7"/><rect x="24.5" y="244.4" width="171.5" height="120.9" fill="none" stroke="#333" stroke-width="1.05"/><text transform="translate(32.25 373.15) scale(0.92 1.045)" font-size="7.0" text-anchor="middle" font-weight="normal" fill="#4D4D4D" stroke="#4D4D4D" stroke-width="0.1">0</text><text transform="translate(63.16 373.15) scale(0.92 1.045)" font-size="7.0" text-anchor="middle" font-weight="normal" fill="#4D4D4D" stroke="#4D4D4D" stroke-width="0.1">50</text><text transform="translate(94.07 373.15) scale(0.92 1.045)" font-size="7.0" text-anchor="middle" font-weight="normal" fill="#4D4D4D" stroke="#4D4D4D" stroke-width="0.1">100</text><text transform="translate(124.98 373.15) scale(0.92 1.045)" font-size="7.0" text-anchor="middle" font-weight="normal" fill="#4D4D4D" stroke="#4D4D4D" stroke-width="0.1">150</text><text transform="translate(155.89 373.15) scale(0.92 1.045)" font-size="7.0" text-anchor="middle" font-weight="normal" fill="#4D4D4D" stroke="#4D4D4D" stroke-width="0.1">200</text><text transform="translate(186.8 373.15) scale(0.92 1.045)" font-size="7.0" text-anchor="middle" font-weight="normal" fill="#4D4D4D" stroke="#4D4D4D" stroke-width="0.1">250</text><text transform="translate(21.1 275) scale(0.92 1.045)" font-size="7.0" text-anchor="end" font-weight="normal" fill="#4D4D4D" stroke="#4D4D4D" stroke-width="0.1">0.5</text><text transform="translate(21.1 309.5) scale(0.92 1.045)" font-size="7.0" text-anchor="end" font-weight="normal" fill="#4D4D4D" stroke="#4D4D4D" stroke-width="0.1">0.0</text><text transform="translate(21.1 344) scale(0.92 1.045)" font-size="7.0" text-anchor="end" font-weight="normal" fill="#4D4D4D" stroke="#4D4D4D" stroke-width="0.1">−0.5</text><path d="M31.85 365.3V367.5M62.76 365.3V367.5M93.67 365.3V367.5M124.58 365.3V367.5M155.49 365.3V367.5M186.4 365.3V367.5M24.5 272.4H22.3M24.5 306.9H22.3M24.5 341.4H22.3" stroke="#333" stroke-width="0.9" fill="none"/><text transform="translate(7.4 307.2) scale(1 1.045) rotate(-90)" font-size="9.5" text-anchor="middle" font-weight="normal" fill="#000" stroke="#000" stroke-width="0.15">Silhouette width</text><text transform="translate(1.65 236.7) scale(1 1.045)" font-size="18.4" text-anchor="start" font-weight="bold" fill="#000" stroke="#000" stroke-width="0.15">D</text><path d="M239.9 245.9V365.3M255.15 245.9V365.3M270.4 245.9V365.3M285.65 245.9V365.3M300.9 245.9V365.3M316.15 245.9V365.3M331.4 245.9V365.3M346.65 245.9V365.3M361.9 245.9V365.3M377.15 245.9V365.3M392.4 245.9V365.3M232.4 246.4H402.5M232.4 261.95H402.5M232.4 277.5H402.5M232.4 293.05H402.5M232.4 308.6H402.5M232.4 324.15H402.5M232.4 339.7H402.5M232.4 355.25H402.5" stroke="#EBEBF0" stroke-width="0.9" fill="none"/><path d="M240 308.4L242.1 315L244.6 321.6L246.3 328.2L247.1 336.5L247.6 354.8L248.2 356.5L249 356.5L249 308.4Z" fill="#F8766D"/><path d="M249 308.4L249 273.3L250.7 274.7L252.8 277.4L254.9 280.9L256.6 284.4L257.4 292.1L258 301.9L258.2 308.4L259 320L259.8 350L260.2 357.3L261.2 357.3L261.2 308.4Z" fill="#C49A00"/><path d="M261.2 308.4L261.2 294.9L263.3 296.6L265.8 299.8L268.2 304.6L269.6 308.4L270.2 314.7L271.3 329.1L272.6 343.6L273.3 352.5L273.8 352.5L273.8 308.4Z" fill="#53B400"/><path d="M273.8 308.4L273.8 301.6L278.6 302.6L285.6 304.4L290.8 306.1L294.8 308.4L297.3 310.9L298.5 317.3L300.5 322.2L303.7 327L306.9 331.8L311.7 334.2L313.3 338.3L314.1 343.1L315.3 343.1L315.3 308.4Z" fill="#00C094"/><path d="M315.3 308.4L318.2 310.1L326.2 311.7L334.3 314.1L340 315.8L346.6 317.5L351.6 320L355 324.9L357.5 328.6L364.9 329.9L369.1 331.6L371.6 335.7L374.9 337.4L375.7 348.2L376.4 359.8L377.1 359.8L377.1 308.4Z" fill="#00B6EB"/><path d="M377.1 308.4L377.1 250.9L381.2 251.3L384.7 253.1L386.5 255.7L387.9 258.4L388.3 262.8L388.3 308.4Z" fill="#A58AFF"/><path d="M388.3 308.4L388.3 284.9L390 287L391.8 291.9L392.4 299L392.6 306L392.8 308.4L393.2 316.6L393.6 347.4L394.6 347.4L394.6 308.4Z" fill="#FB61D7"/><rect x="232.4" y="245.9" width="170.1" height="119.4" fill="none" stroke="#333" stroke-width="1.05"/><text transform="translate(240.2 373.6) scale(0.95 1.045)" font-size="6.3" text-anchor="middle" font-weight="normal" fill="#4D4D4D" stroke="#4D4D4D" stroke-width="0.1">0</text><text transform="translate(270.7 373.6) scale(0.95 1.045)" font-size="6.3" text-anchor="middle" font-weight="normal" fill="#4D4D4D" stroke="#4D4D4D" stroke-width="0.1">50</text><text transform="translate(301.2 373.6) scale(0.95 1.045)" font-size="6.3" text-anchor="middle" font-weight="normal" fill="#4D4D4D" stroke="#4D4D4D" stroke-width="0.1">100</text><text transform="translate(331.7 373.6) scale(0.95 1.045)" font-size="6.3" text-anchor="middle" font-weight="normal" fill="#4D4D4D" stroke="#4D4D4D" stroke-width="0.1">150</text><text transform="translate(362.2 373.6) scale(0.95 1.045)" font-size="6.3" text-anchor="middle" font-weight="normal" fill="#4D4D4D" stroke="#4D4D4D" stroke-width="0.1">200</text><text transform="translate(392.7 373.6) scale(0.95 1.045)" font-size="6.3" text-anchor="middle" font-weight="normal" fill="#4D4D4D" stroke="#4D4D4D" stroke-width="0.1">250</text><text transform="translate(229.3 249) scale(0.95 1.045)" font-size="6.3" text-anchor="end" font-weight="normal" fill="#4D4D4D" stroke="#4D4D4D" stroke-width="0.1">1.0</text><text transform="translate(229.3 280.1) scale(0.95 1.045)" font-size="6.3" text-anchor="end" font-weight="normal" fill="#4D4D4D" stroke="#4D4D4D" stroke-width="0.1">0.5</text><text transform="translate(229.3 311.2) scale(0.95 1.045)" font-size="6.3" text-anchor="end" font-weight="normal" fill="#4D4D4D" stroke="#4D4D4D" stroke-width="0.1">0.0</text><text transform="translate(229.3 342.3) scale(0.95 1.045)" font-size="6.3" text-anchor="end" font-weight="normal" fill="#4D4D4D" stroke="#4D4D4D" stroke-width="0.1">−0.5</text><path d="M239.9 365.3V367.5M270.4 365.3V367.5M300.9 365.3V367.5M331.4 365.3V367.5M361.9 365.3V367.5M392.4 365.3V367.5M232.4 246.4H230.2M232.4 277.5H230.2M232.4 308.6H230.2M232.4 339.7H230.2" stroke="#333" stroke-width="0.9" fill="none"/><text transform="translate(214.1 307) scale(1 1.045) rotate(-90)" font-size="9.5" text-anchor="middle" font-weight="normal" fill="#000" stroke="#000" stroke-width="0.15">Silhouette width</text><text transform="translate(207.7 236.7) scale(1 1.045)" font-size="18.4" text-anchor="start" font-weight="bold" fill="#000" stroke="#000" stroke-width="0.15">E</text><path d="M444.8 244.6V365M460.2 244.6V365M475.6 244.6V365M491 244.6V365M506.4 244.6V365M521.8 244.6V365M537.2 244.6V365M552.6 244.6V365M568 244.6V365M583.4 244.6V365M598.8 244.6V365M436.8 246.82H608.4M436.8 263.95H608.4M436.8 281.07H608.4M436.8 298.2H608.4M436.8 315.32H608.4M436.8 332.45H608.4M436.8 349.57H608.4" stroke="#EBEBEB" stroke-width="0.9" fill="none"/><path d="M444.2 298.1L444.2 278.4L445.8 278.4L445.8 298.1L445.8 302.5L446.6 303L448.4 309.4L450.3 316.9L451.6 324.4L452.8 329.6L453.5 329.6L453.5 298.1Z" fill="#F8766D"/><path d="M453.5 298.1L453.5 259.4L454.7 260.7L456.7 263.4L458.7 265.4L459.4 268.7L460.1 274.1L460.8 279.5L461.7 284.8L462.8 290.2L463.8 296.9L463.8 298.1L463.8 331.5L465.6 331.5L465.6 298.1Z" fill="#C49A00"/><path d="M465.6 298.1L466.5 306.9L469 316.5L471.4 326.2L473.8 335.8L476.2 342.3L477.8 349.5L478.4 349.5L478.4 298.1Z" fill="#53B400"/><path d="M478.4 298.1L478.4 284.1L480.2 286.2L482.9 288.2L488.2 290.2L493.6 292.9L498 295.2L501 298.1L504.1 301.2L508.1 304.2L511.1 309.3L513.1 313.3L516.1 316.3L518.2 326.4L519.2 342.5L520.2 342.5L520.2 298.1Z" fill="#00C094"/><path d="M520.2 298.1L520.2 288.1L524.2 289.1L529.2 290.1L532.3 293.2L538.3 295.2L543.3 298.1L546.3 301.6L551.1 306.3L554.6 308.9L558 312.3L564.9 313.1L570 315.7L573.4 320L576.9 324.3L579.4 329.4L581.1 335.4L582 347.4L582.5 360L583.4 360L583.4 298.1Z" fill="#00B6EB"/><path d="M583.4 298.1L583.4 249L585 249.75L587.2 252L589.5 255L591.7 258.7L592.8 262.5L593.7 268.5L594.3 276L594.7 285.7L594.7 298.1Z" fill="#A58AFF"/><path d="M594.6 298.1L594.6 286L595.8 287.3L597 291L597.6 295L597.8 298.1L598.2 303L598.75 307.5L599.7 326.3L600 331.9L601 331.9L601 298.1Z" fill="#FB61D7"/><rect x="436.8" y="244.6" width="171.6" height="120.4" fill="none" stroke="#333" stroke-width="1.05"/><text transform="translate(445.2 373.3) scale(0.92 1.045)" font-size="7.0" text-anchor="middle" font-weight="normal" fill="#4D4D4D" stroke="#4D4D4D" stroke-width="0.1">0</text><text transform="translate(476 373.3) scale(0.92 1.045)" font-size="7.0" text-anchor="middle" font-weight="normal" fill="#4D4D4D" stroke="#4D4D4D" stroke-width="0.1">50</text><text transform="translate(506.8 373.3) scale(0.92 1.045)" font-size="7.0" text-anchor="middle" font-weight="normal" fill="#4D4D4D" stroke="#4D4D4D" stroke-width="0.1">100</text><text transform="translate(537.6 373.3) scale(0.92 1.045)" font-size="7.0" text-anchor="middle" font-weight="normal" fill="#4D4D4D" stroke="#4D4D4D" stroke-width="0.1">150</text><text transform="translate(568.4 373.3) scale(0.92 1.045)" font-size="7.0" text-anchor="middle" font-weight="normal" fill="#4D4D4D" stroke="#4D4D4D" stroke-width="0.1">200</text><text transform="translate(599.2 373.3) scale(0.92 1.045)" font-size="7.0" text-anchor="middle" font-weight="normal" fill="#4D4D4D" stroke="#4D4D4D" stroke-width="0.1">250</text><text transform="translate(434 266.55) scale(0.92 1.045)" font-size="7.0" text-anchor="end" font-weight="normal" fill="#4D4D4D" stroke="#4D4D4D" stroke-width="0.1">0.5</text><text transform="translate(434 300.8) scale(0.92 1.045)" font-size="7.0" text-anchor="end" font-weight="normal" fill="#4D4D4D" stroke="#4D4D4D" stroke-width="0.1">0.0</text><text transform="translate(434 335.05) scale(0.92 1.045)" font-size="7.0" text-anchor="end" font-weight="normal" fill="#4D4D4D" stroke="#4D4D4D" stroke-width="0.1">−0.5</text><path d="M444.8 365V367.2M475.6 365V367.2M506.4 365V367.2M537.2 365V367.2M568 365V367.2M598.8 365V367.2M436.8 263.95H434.6M436.8 298.2H434.6M436.8 332.45H434.6" stroke="#333" stroke-width="0.9" fill="none"/><text transform="translate(419.1 307.5) scale(1 1.045) rotate(-90)" font-size="9.5" text-anchor="middle" font-weight="normal" fill="#000" stroke="#000" stroke-width="0.15">Silhouette width</text><text transform="translate(417.5 236.7) scale(1 1.045)" font-size="18.4" text-anchor="start" font-weight="bold" fill="#000" stroke="#000" stroke-width="0.15">F</text><circle cx="608.9" cy="136.3" r="1.25" fill="#F8766D"/><text transform="translate(622 139.1) scale(1 1.045)" font-size="8.25" text-anchor="start" font-weight="normal" fill="#000" stroke="#000" stroke-width="0.12">B cell</text><circle cx="608.9" cy="152.05" r="1.25" fill="#C49A00"/><text transform="translate(622 154.85) scale(1 1.045)" font-size="8.25" text-anchor="start" font-weight="normal" fill="#000" stroke="#000" stroke-width="0.12">CD14+ monocyte</text><circle cx="608.9" cy="167.8" r="1.25" fill="#53B400"/><text transform="translate(622 170.6) scale(1 1.045)" font-size="8.25" text-anchor="start" font-weight="normal" fill="#000" stroke="#000" stroke-width="0.12">CD16+ monocyte</text><circle cx="608.9" cy="183.55" r="1.25" fill="#00C094"/><text transform="translate(622 186.35) scale(1 1.045)" font-size="8.25" text-anchor="start" font-weight="normal" fill="#000" stroke="#000" stroke-width="0.12">CD4+ T cell</text><circle cx="608.9" cy="199.3" r="1.25" fill="#00B6EB"/><text transform="translate(622 202.1) scale(1 1.045)" font-size="8.25" text-anchor="start" font-weight="normal" fill="#000" stroke="#000" stroke-width="0.12">Cytotoxic T cell</text><circle cx="608.9" cy="215.05" r="1.25" fill="#A58AFF"/><text transform="translate(622 217.85) scale(1 1.045)" font-size="8.25" text-anchor="start" font-weight="normal" fill="#000" stroke="#000" stroke-width="0.12">Megakaryocyte</text><circle cx="608.9" cy="230.8" r="1.25" fill="#FB61D7"/><text transform="translate(622 233.6) scale(1 1.045)" font-size="8.25" text-anchor="start" font-weight="normal" fill="#000" stroke="#000" stroke-width="0.12">Natural killer cell</text></svg></body></html>
